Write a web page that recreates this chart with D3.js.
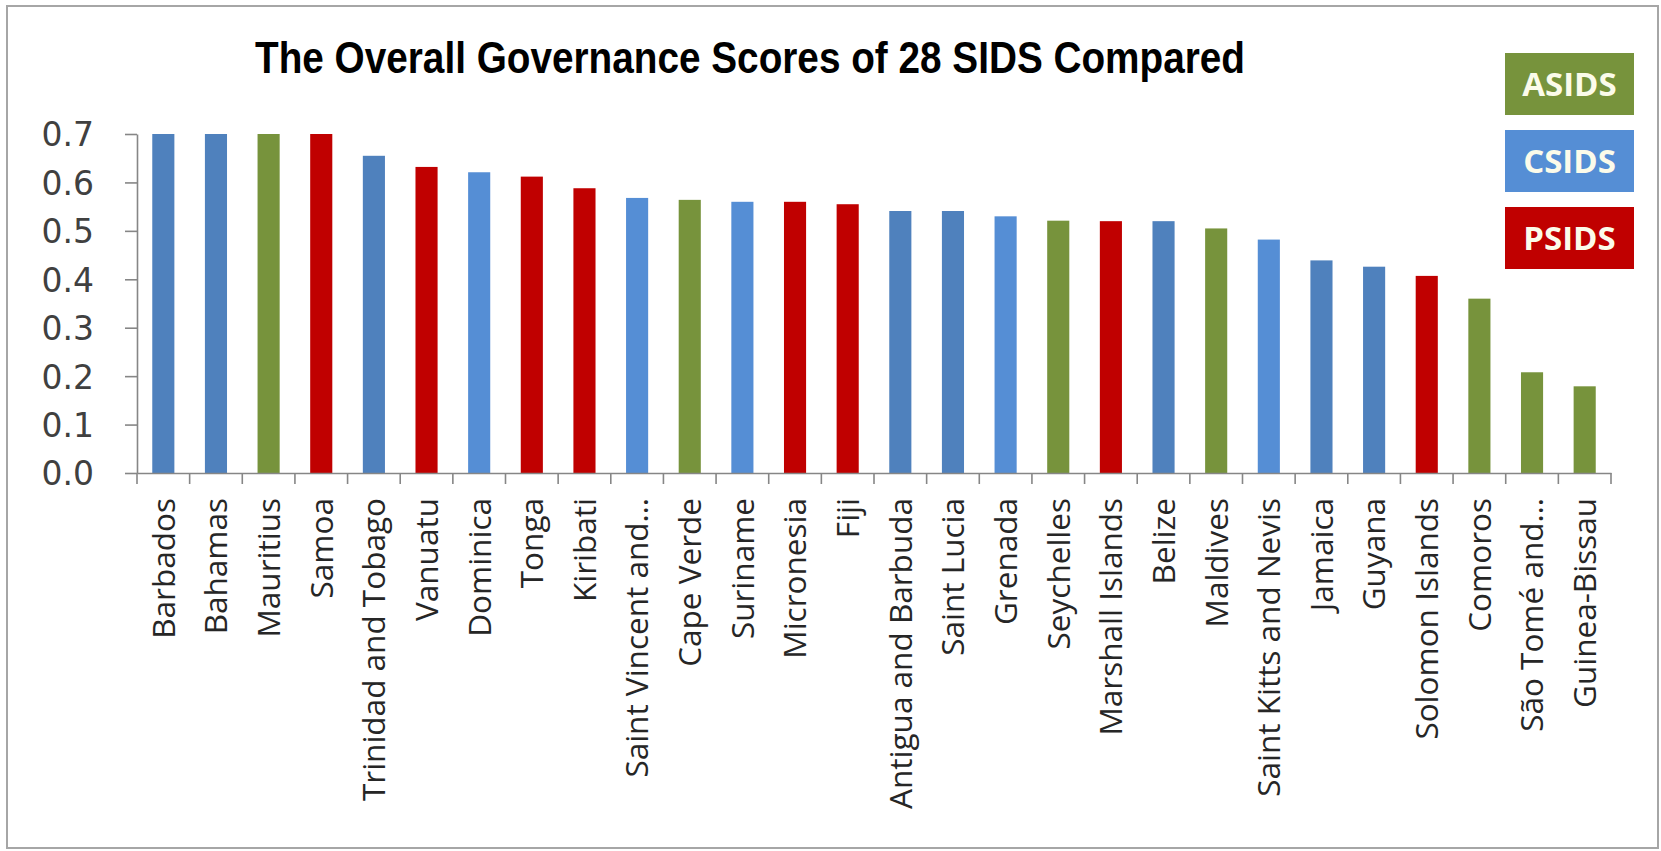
<!DOCTYPE html>
<html>
<head>
<meta charset="utf-8">
<script src="https://cdn.jsdelivr.net/npm/d3@7"></script>
<style>
  body { margin: 0; background: #fff; }
</style>
</head>
<body>
<div id="chart"></div>
<script>
// the chart's data
var countries = ["Barbados", "Bahamas", "Mauritius", "Samoa", "Trinidad and Tobago", "Vanuatu",
  "Dominica", "Tonga", "Kiribati", "Saint Vincent and\u2026", "Cape Verde", "Suriname", "Micronesia",
  "Fiji", "Antigua and Barbuda", "Saint Lucia", "Grenada", "Seychelles", "Marshall Islands", "Belize",
  "Maldives", "Saint Kitts and Nevis", "Jamaica", "Guyana", "Solomon Islands", "Comoros",
  "S\u00e3o Tom\u00e9 and\u2026", "Guinea-Bissau"];
var scores = [0.700, 0.700, 0.700, 0.700, 0.655, 0.632, 0.621, 0.612, 0.588, 0.568, 0.564, 0.560, 0.560,
  0.555, 0.541, 0.541, 0.530, 0.521, 0.520, 0.520, 0.505, 0.482, 0.439, 0.426, 0.407, 0.360, 0.208, 0.179];
var groups = ["CSIDS", "CSIDS", "ASIDS", "PSIDS", "CSIDS", "PSIDS", "CSIDS", "PSIDS", "PSIDS", "CSIDS",
  "ASIDS", "CSIDS", "PSIDS", "PSIDS", "CSIDS", "CSIDS", "CSIDS", "ASIDS", "PSIDS", "CSIDS",
  "ASIDS", "CSIDS", "CSIDS", "CSIDS", "PSIDS", "ASIDS", "ASIDS", "ASIDS"];
var legendLabels = ["ASIDS", "CSIDS", "PSIDS"];
var yTicks = [0, 0.1, 0.2, 0.3, 0.4, 0.5, 0.6, 0.7];
var title = "The Overall Governance Scores of 28 SIDS Compared";

// colours (some Caribbean bars were drawn in a darker blue)
var groupColor = d3.scaleOrdinal().domain(legendLabels).range(["#77933c", "#558ed5", "#c00000"]);
var darkBlueBars = ["Barbados", "Bahamas", "Trinidad and Tobago", "Antigua and Barbuda", "Saint Lucia",
  "Belize", "Jamaica", "Guyana"];

var data = countries.map(function(c, i) { return { name: c, score: scores[i], group: groups[i] }; });

var width = 1661, height = 851;

var svg = d3.select("#chart")
  .append("svg")
    .attr("width", width)
    .attr("height", height);

// frame round the picture
svg.append("rect")
  .attr("x", 7).attr("y", 6)
  .attr("width", 1651).attr("height", 842)
  .attr("fill", "#fff")
  .attr("stroke", "#a6a6a6")
  .attr("stroke-width", 2);

// scales
var x = d3.scaleBand()
  .domain(countries)
  .range([137, 1611])
  .paddingInner(0.58)
  .paddingOuter(0.29);

var y = d3.scaleLinear()
  .domain([0, 0.7])
  .range([473, 134]);

// bars
svg.append("g")
  .selectAll("rect")
  .data(data)
  .enter()
  .append("rect")
    .attr("x", function(d) { return x(d.name); })
    .attr("y", function(d) { return y(d.score); })
    .attr("width", x.bandwidth())
    .attr("height", function(d) { return y(0) - y(d.score); })
    .attr("fill", function(d) {
      if (darkBlueBars.indexOf(d.name) >= 0) return "#4f81bd";
      return groupColor(d.group);
    });

// Y axis
var yAxis = svg.append("g")
  .attr("transform", "translate(137,0)")
  .call(d3.axisLeft(y).tickValues(yTicks).tickFormat(d3.format(".1f"))
    .tickSize(12).tickSizeOuter(0).tickPadding(31));
yAxis.selectAll("path, line").attr("stroke", "#868686").attr("stroke-width", 1.6);
yAxis.selectAll("text")
  .attr("fill", "#404040")
  .style("font-family", "'DejaVu Sans', sans-serif")
  .style("font-size", "33px")
  .attr("dy", "0.36em");

// X axis: labels from the band scale, ticks on the band edges
var xAxis = svg.append("g")
  .attr("transform", "translate(0,473)")
  .call(d3.axisBottom(x).tickSize(0).tickSizeOuter(0));
xAxis.select("path").attr("stroke", "#868686").attr("stroke-width", 1.6);
xAxis.selectAll("text")
  .attr("transform", "rotate(-90)")
  .attr("text-anchor", "end")
  .attr("x", -25)
  .attr("y", 0)
  .attr("dy", "0.36em")
  .attr("fill", "#262626")
  .style("font-family", "'Open Sans', sans-serif")
  .style("font-size", "31.5px");

var edges = countries.map(function(c) { return x(c) - (x.step() - x.bandwidth()) / 2; });
edges.push(x.range()[1]);
xAxis.selectAll(".edge")
  .data(edges)
  .enter()
  .append("line")
    .attr("class", "edge")
    .attr("x1", function(d) { return d; })
    .attr("x2", function(d) { return d; })
    .attr("y1", 0)
    .attr("y2", 11)
    .attr("stroke", "#868686")
    .attr("stroke-width", 1.6);

// title
svg.append("text")
  .attr("x", 255)
  .attr("y", 73)
  .attr("textLength", 990)
  .attr("lengthAdjust", "spacingAndGlyphs")
  .style("font-family", "'Liberation Sans Narrow', 'Liberation Sans', Arial, sans-serif")
  .style("font-weight", "bold")
  .style("font-size", "44px")
  .attr("fill", "#000")
  .text(title);

// legend boxes
var legend = svg.append("g")
  .selectAll("g")
  .data(legendLabels)
  .enter()
  .append("g")
    .attr("transform", function(d, i) { return "translate(1505," + (53 + i * 77) + ")"; });

legend.append("rect")
  .attr("width", 129)
  .attr("height", 62)
  .attr("fill", function(d) { return groupColor(d); });

legend.append("text")
  .attr("x", 64.5)
  .attr("y", 31)
  .attr("dy", "0.36em")
  .attr("text-anchor", "middle")
  .style("font-family", "'Open Sans', sans-serif")
  .style("font-size", "33px")
  .style("font-weight", "bold")
  .attr("fill", "#fbfbea")
  .text(function(d) { return d; });
</script>
</body>
</html>
